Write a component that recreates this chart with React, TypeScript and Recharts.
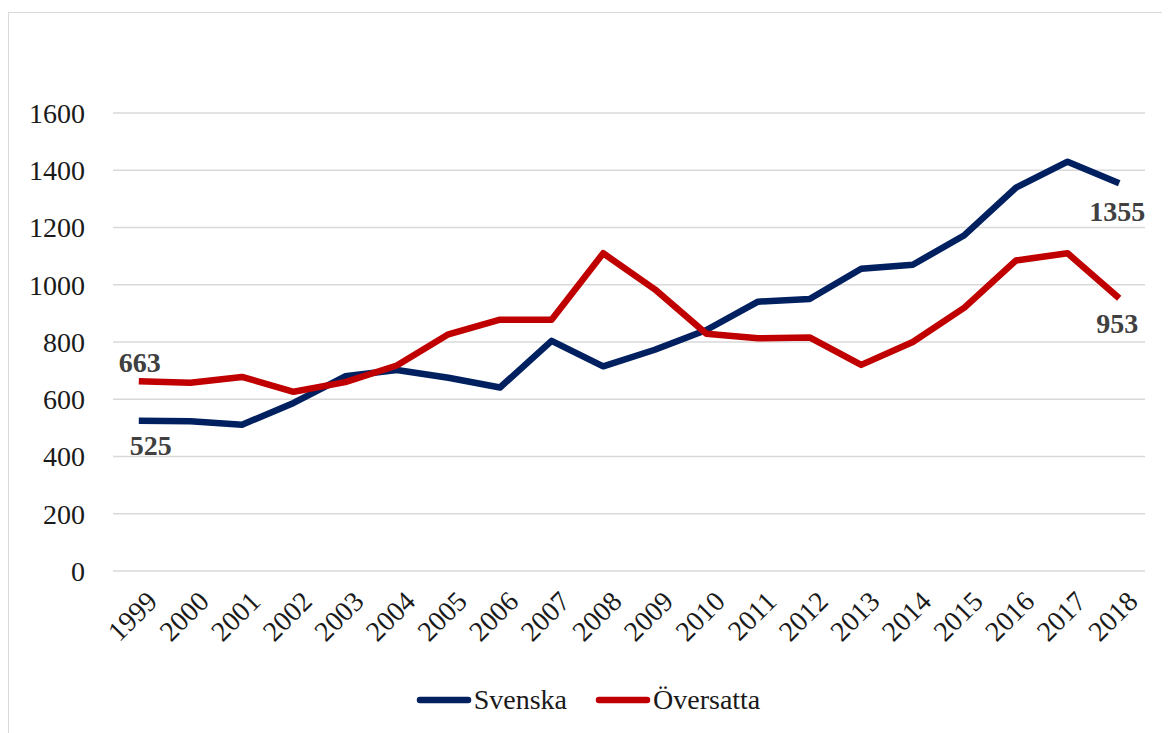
import React from 'react';
import { LineChart, Line, XAxis, YAxis, CartesianGrid, Legend } from 'recharts';

const years = ['1999', '2000', '2001', '2002', '2003', '2004', '2005', '2006', '2007', '2008',
  '2009', '2010', '2011', '2012', '2013', '2014', '2015', '2016', '2017', '2018'];
const svenska = [525, 523, 511, 587, 680, 702, 675, 641, 804, 715, 773, 842, 941, 950, 1056, 1070, 1173, 1339, 1430, 1355];
const oversatta = [663, 658, 678, 626, 660, 718, 827, 878, 878, 1110, 984, 829, 813, 816, 720, 800, 920, 1085, 1110, 953];
const yTicks = [0, 200, 400, 600, 800, 1000, 1200, 1400, 1600];

const data = years.map((year, i) => ({ year, svenska: svenska[i], oversatta: oversatta[i] }));

const FONT = 'Liberation Serif, DejaVu Serif, serif';
const BLUE = '#002060';
const RED = '#C00000';

// labels only on first and last point, placed like the Excel original
const endLabel = (first: { dx: number; dy: number }, last: { dx: number; dy: number }) => (props: any) => {
  const { x, y, index, value } = props;
  if (index !== 0 && index !== years.length - 1) return null;
  const off = index === 0 ? first : last;
  return (
    <text x={x + off.dx} y={y + off.dy} textAnchor="middle" fill="#404040"
      style={{ fontFamily: FONT }} fontSize={28} fontWeight="bold">
      {value}
    </text>
  );
};

const XTick = (props: any) => {
  const { x, y, payload } = props;
  return (
    <text x={x + 6} y={y + 2} transform={`rotate(-45 ${x + 6} ${y + 2})`} textAnchor="end"
      dominantBaseline="hanging" fill="#1a1a1a" style={{ fontFamily: FONT }} fontSize={28}>
      {payload.value}
    </text>
  );
};

const YTick = (props: any) => {
  const { x, y, payload } = props;
  return (
    <text x={x} y={y} textAnchor="end" dy="0.35em" fill="#1a1a1a"
      style={{ fontFamily: FONT }} fontSize={28}>
      {payload.value}
    </text>
  );
};

const LegendContent = () => (
  <div style={{ display: 'flex', justifyContent: 'center', alignItems: 'center', height: 40,
    fontFamily: FONT, fontSize: 28, color: '#1a1a1a', marginLeft: 22 }}>
    {[{ name: 'Svenska', color: BLUE }, { name: 'Översatta', color: RED }].map((s) => (
      <div key={s.name} style={{ display: 'flex', alignItems: 'center', margin: '0 14px' }}>
        <svg width={56} height={10}>
          <line x1={4} y1={5} x2={52} y2={5} stroke={s.color} strokeWidth={6.5} strokeLinecap="round" />
        </svg>
        <span style={{ marginLeft: 2 }}>{s.name}</span>
      </div>
    ))}
  </div>
);

export default function App() {
  return (
    <div style={{ width: 1160, height: 720, border: '1px solid #d9d9d9', marginTop: 4, background: '#fff' }}>
      <LineChart width={1160} height={720} data={data}
        margin={{ top: 100, right: 24, left: 0, bottom: 13 }}>
        <CartesianGrid vertical={false} stroke="#d9d9d9" strokeWidth={1.5} />
        <XAxis dataKey="year" scale="band" axisLine={false} tickLine={false} height={109}
          interval={0} tickMargin={10} tick={<XTick />} />
        <YAxis domain={[0, 1600]} ticks={yTicks} width={104} axisLine={false} tickLine={false}
          tickMargin={22} tick={<YTick />} />
        <Legend verticalAlign="bottom" content={<LegendContent />} />
        <Line dataKey="svenska" name="Svenska" stroke={BLUE} strokeWidth={6.5} dot={false}
          isAnimationActive={false} strokeLinejoin="round"
          label={endLabel({ dx: 12, dy: 34 }, { dx: -2, dy: 38 })} />
        <Line dataKey="oversatta" name="Översatta" stroke={RED} strokeWidth={6.5} dot={false}
          isAnimationActive={false} strokeLinejoin="round"
          label={endLabel({ dx: 1, dy: -9 }, { dx: -2, dy: 35 })} />
      </LineChart>
    </div>
  );
}
